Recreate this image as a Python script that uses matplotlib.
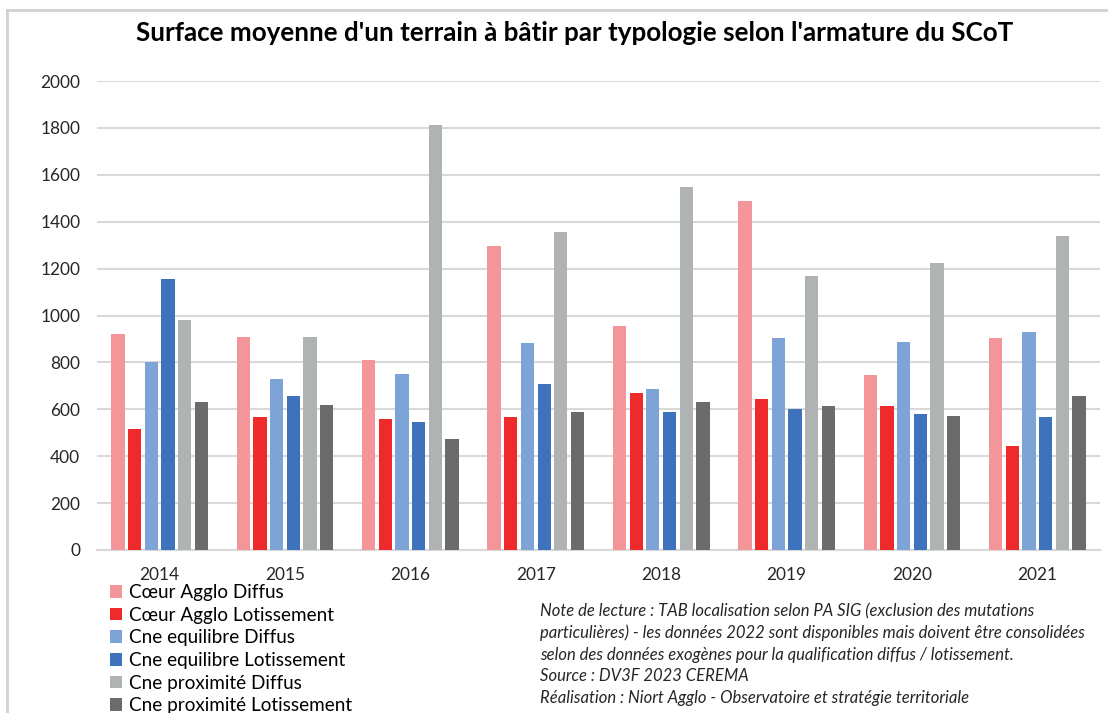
import matplotlib
matplotlib.use("Agg")
import matplotlib.pyplot as plt
import numpy as np
from matplotlib.lines import Line2D

years = ["2014", "2015", "2016", "2017", "2018", "2019", "2020", "2021"]
series_names = [
    "Cœur Agglo Diffus",
    "Cœur Agglo Lotissement",
    "Cne equilibre Diffus",
    "Cne equilibre Lotissement",
    "Cne proximité Diffus",
    "Cne proximité Lotissement",
]
coeur_diffus = [920, 907, 810, 1296, 955, 1487, 746, 903]
coeur_lotissement = [516, 567, 557, 567, 669, 645, 614, 445]
equilibre_diffus = [803, 728, 750, 883, 686, 903, 887, 931]
equilibre_lotissement = [1156, 658, 546, 706, 590, 601, 581, 566]
proximite_diffus = [980, 907, 1812, 1357, 1549, 1168, 1224, 1340]
proximite_lotissement = [630, 617, 473, 588, 630, 613, 570, 658]
series_values = [coeur_diffus, coeur_lotissement, equilibre_diffus,
                 equilibre_lotissement, proximite_diffus, proximite_lotissement]
colors = ["#F4959A", "#EE2A2B", "#7EA3D6", "#3E72BC", "#B0B3B4", "#6B6B6D"]

title = "Surface moyenne d'un terrain à bâtir par typologie selon l'armature du SCoT"
note_lines = [
    "Note de lecture : TAB localisation selon PA SIG (exclusion des mutations",
    "particulières) - les données 2022 sont disponibles mais doivent être consolidées",
    "selon des données exogènes pour la qualification diffus / lotissement.",
    "Source : DV3F 2023 CEREMA",
    "Réalisation : Niort Agglo - Observatoire et stratégie territoriale",
]

W, H = 1108, 713
fig = plt.figure(figsize=(W / 100, H / 100), dpi=100)
fig.patch.set_facecolor("white")
font = "Lato"

def fx(px):
    return px / W

def fy(py):
    return 1 - py / H

ax = fig.add_axes([fx(97), fy(550), fx(1100) - fx(97), fy(81) - fy(550)])

x = np.arange(len(years))
pitch = 0.133
width = 0.106
handles = []
for i, (name, vals, c) in enumerate(zip(series_names, series_values, colors)):
    b = ax.bar(x + (i - 2.5) * pitch, vals, width=width, color=c, label=name, zorder=3)
    handles.append(b)

ax.set_xlim(-0.5, len(years) - 0.5)
ax.set_ylim(0, 2000)
ax.set_yticks(range(0, 2001, 200))
ax.set_yticklabels([str(v) for v in range(0, 2001, 200)], fontsize=12.4,
                   fontfamily=font, color="#262626")
ax.set_xticks(x)
ax.set_xticklabels(years, fontsize=12.4, fontfamily=font, color="#262626")
ax.tick_params(axis="both", length=0)
ax.tick_params(axis="y", pad=12)
ax.tick_params(axis="x", pad=12)
ax.grid(axis="y", color="#D9D9D9", linewidth=1.5, zorder=0)
for s in ["top", "right", "left"]:
    ax.spines[s].set_visible(False)
ax.spines["bottom"].set_color("#D9D9D9")
ax.spines["bottom"].set_linewidth(1.5)

fig.text(fx(575), fy(33), title, ha="center", va="center", fontsize=18.7,
         fontweight="bold", fontfamily=font, color="black")

fig.legend(handles=handles, labels=series_names, loc="upper left",
           bbox_to_anchor=(fx(110), fy(584)), frameon=False,
           prop={"family": font, "size": 13.6},
           handlelength=0.65, handleheight=0.65, handletextpad=0.35,
           labelspacing=0.3, borderpad=0, borderaxespad=0)

for k, line in enumerate(note_lines):
    fig.text(fx(540), fy(611 + k * 21.8), line, ha="left", va="center",
             fontsize=12, fontstyle="italic", fontfamily=font, color="#262626")

# frame around the chart area
fig.add_artist(Line2D([fx(7), 1], [fy(10), fy(10)], color="#D0D0D0", lw=2,
                      transform=fig.transFigure))
fig.add_artist(Line2D([fx(7), fx(7)], [fy(10), 0], color="#D0D0D0", lw=2,
                      transform=fig.transFigure))

fig.savefig("out.png", dpi=100)
